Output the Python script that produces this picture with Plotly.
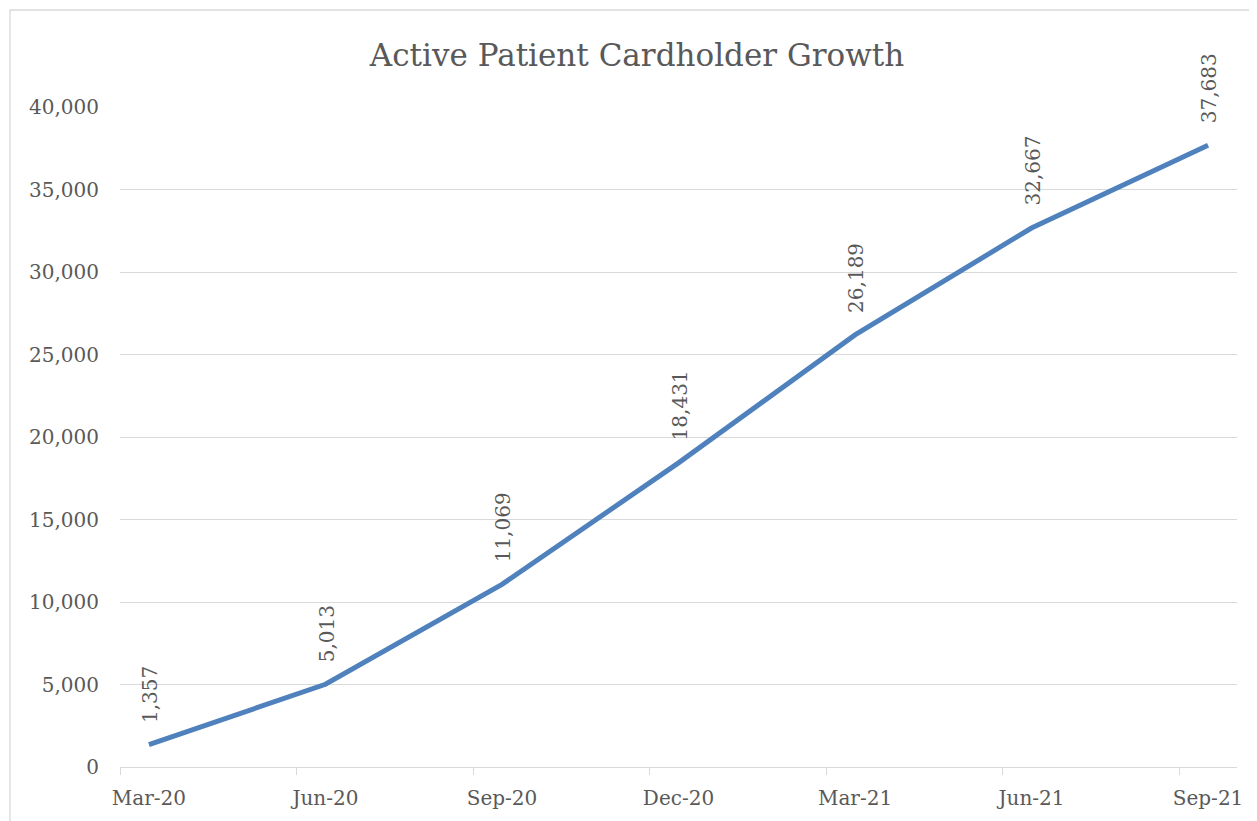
import plotly.graph_objects as go

# quarterly active cardholders
quarters = ["Mar-20", "Jun-20", "Sep-20", "Dec-20", "Mar-21", "Jun-21", "Sep-21"]
cardholders = [1357, 5013, 11069, 18431, 26189, 32667, 37683]

TEXT = "#595959"
GRID = "#D9D9D9"
LINE = "#4F81BD"
FONT = "DejaVu Serif"

W, H = 1257, 821
PAGE_PAD = 8  # html body margin
M = dict(l=120 - PAGE_PAD, r=W - 1237 + PAGE_PAD, t=107 - PAGE_PAD, b=H - 767 + PAGE_PAD)

xs = list(range(len(quarters)))
# excel date axis: tick marks sit at the start of each month, points mid-month
tick_offset = 0.164
tick_marks = [x - tick_offset for x in xs]

fig = go.Figure()
fig.add_trace(go.Scatter(
    x=xs,
    y=cardholders,
    mode="lines",
    line=dict(color=LINE, width=5),
    hoverinfo="skip",
    showlegend=False,
))

for x, v in zip(xs, cardholders):
    fig.add_annotation(
        x=x, y=v, xref="x", yref="y",
        text=f"{v:,}",
        textangle=-90,
        showarrow=False,
        xanchor="center", yanchor="bottom",
        yshift=20, xshift=1,
        font=dict(family=FONT, size=20, color=TEXT),
    )

fig.update_layout(
    width=W, height=H,
    margin=M,
    paper_bgcolor="white",
    plot_bgcolor="white",
    title=dict(
        text="Active Patient Cardholder Growth",
        x=(637 - PAGE_PAD) / W, xanchor="center",
        y=1 - (55 - PAGE_PAD) / H, yanchor="middle",
        font=dict(family=FONT, size=31, color=TEXT),
    ),
    xaxis=dict(
        range=[-tick_offset, len(xs) - 1 + tick_offset],
        tickmode="array",
        tickvals=xs,
        ticktext=quarters,
        ticks="",
        ticklabelstandoff=13,
        showgrid=False,
        zeroline=False,
        showline=True,
        linecolor=GRID,
        linewidth=1.3,
        tickfont=dict(family=FONT, size=20, color=TEXT),
        minor=dict(
            tickmode="array",
            tickvals=tick_marks,
            ticks="outside",
            ticklen=7,
            tickwidth=1.3,
            tickcolor=GRID,
            showgrid=False,
        ),
    ),
    yaxis=dict(
        range=[0, 40000],
        tickvals=[0, 5000, 10000, 15000, 20000, 25000, 30000, 35000, 40000],
        tickformat=",d",
        ticks="",
        ticklabelstandoff=20,
        showgrid=True,
        gridcolor=GRID,
        gridwidth=1.3,
        zeroline=False,
        showline=False,
        tickfont=dict(family=FONT, size=20, color=TEXT),
    ),
)

# chart area border (extends past the cropped right/bottom edges)
pw = W - M["l"] - M["r"]
ph = H - M["t"] - M["b"]
fig.add_shape(
    type="rect", xref="paper", yref="paper",
    x0=(10 - 120) / pw, x1=(W + 5 - 120) / pw,
    y0=-(821 + 5 - 767) / ph, y1=(767 - 10) / ph,
    line=dict(color=GRID, width=1.3),
    fillcolor="rgba(0,0,0,0)",
    layer="below",
)

fig.write_html("out.html")
